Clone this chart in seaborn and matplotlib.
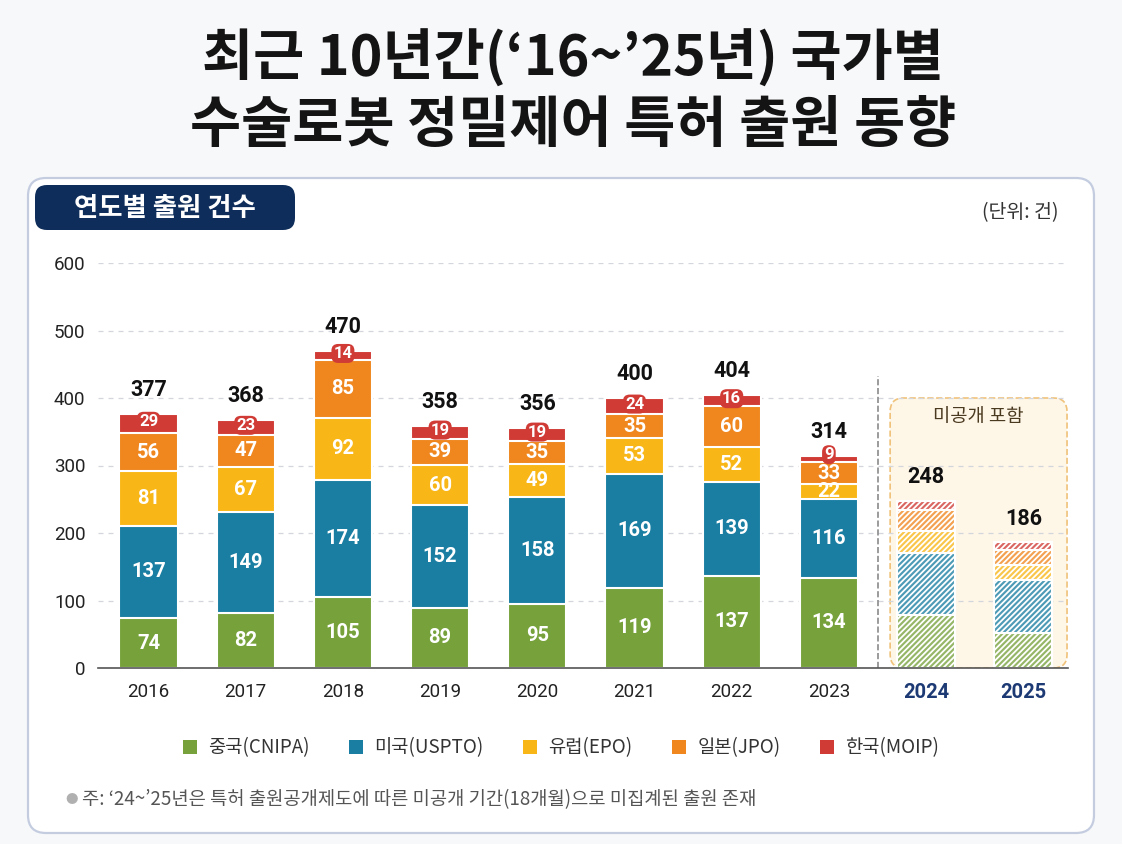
import numpy as np
import pandas as pd
import matplotlib
matplotlib.use('Agg')
import matplotlib.pyplot as plt
import seaborn as sns
from matplotlib.patches import FancyBboxPatch, Patch
from matplotlib.transforms import IdentityTransform
from matplotlib.colors import to_rgb

# data
years = ['2016', '2017', '2018', '2019', '2020', '2021', '2022', '2023', '2024', '2025']
china = [74, 82, 105, 89, 95, 119, 137, 134, 78, 52]
usa = [137, 149, 174, 152, 158, 169, 139, 116, 92, 78]
europe = [81, 67, 92, 60, 49, 53, 52, 22, 33, 22]
japan = [56, 47, 85, 39, 35, 35, 60, 33, 31, 23]
korea = [29, 23, 14, 19, 19, 24, 16, 9, 14, 11]
totals = [377, 368, 470, 358, 356, 400, 404, 314, 248, 186]
series_names = ['중국(CNIPA)', '미국(USPTO)', '유럽(EPO)', '일본(JPO)', '한국(MOIP)']
series_colors = ['#77A23B', '#1A7EA2', '#F8B617', '#EF861E', '#D03B36']
unpublished = ['2024', '2025']

sns.set_theme(style='white')
plt.rcParams['font.family'] = ['Noto Sans CJK KR', 'DejaVu Sans']
plt.rcParams['hatch.linewidth'] = 1.3
NUM_FONT = ['Roboto', 'DejaVu Sans']

fig = plt.figure(figsize=(11.22, 8.44), dpi=100)
fig.patch.set_facecolor('#F7F8FA')

# white panel and heading tag (behind the axes)
panel = FancyBboxPatch((28, 844 - 833), 1066, 655, boxstyle='round,pad=0,rounding_size=18',
                       transform=IdentityTransform(), facecolor='white', edgecolor='#C4CDE0',
                       lw=1.6, zorder=-2)
fig.add_artist(panel)
tag = FancyBboxPatch((35, 844 - 230), 260, 45, boxstyle='round,pad=0,rounding_size=12',
                     transform=IdentityTransform(), facecolor='#0E2D5A', edgecolor='none',
                     zorder=-1)
fig.add_artist(tag)
fig.text(165 / 1122, 1 - 208 / 844, '연도별 출원 건수', color='white', fontsize=19,
         fontweight='bold', ha='center', va='center')
fig.text(1058 / 1122, 1 - 213 / 844, '(단위: 건)', color='#333333', fontsize=14,
         ha='right', va='center')

fig.text(0.511, 1 - 59 / 844, '최근 10년간(‘16~’25년) 국가별', fontsize=40, fontweight='heavy',
         ha='center', va='center', color='#141414')
fig.text(0.511, 1 - 126 / 844, '수술로봇 정밀제어 특허 출원 동향', fontsize=40, fontweight='heavy',
         ha='center', va='center', color='#141414')

ax = fig.add_axes([98 / 1122, 1 - 668 / 844, 970 / 1122, 405 / 844])
ax.set_facecolor('none')

df = pd.DataFrame({'year': years, 'china': china, 'usa': usa, 'europe': europe,
                   'japan': japan, 'korea': korea})
keys = ['china', 'usa', 'europe', 'japan', 'korea']
cum = df[keys].cumsum(axis=1)

# "미공개 포함" region
box = FancyBboxPatch((7.63, 0), 1.82, 400, boxstyle='round,pad=0,rounding_size=0.14',
                     mutation_aspect=144, facecolor='#FEF6E7', edgecolor='#F0C27A',
                     ls='--', lw=1.2, zorder=0.3)
ax.add_patch(box)
ax.text(8.54, 372, '미공개 포함', ha='center', va='center', fontsize=13.5, color='#4A3A20')
ax.plot([7.51, 7.51], [0, 432], ls='--', color='#8A8A8A', lw=1.2, zorder=0.6)

# stacked bars, drawn back to front
for k in range(len(keys) - 1, -1, -1):
    n0 = len(ax.patches)
    sns.barplot(x=df['year'], y=cum[keys[k]], color=series_colors[k], saturation=1,
                width=0.6, edgecolor='white', linewidth=1.5, ax=ax, zorder=2)
    new = ax.patches[n0:]
    light = tuple(0.78 * np.array(to_rgb(series_colors[k])) + 0.22)
    for p, yr in zip(new, years):
        if yr in unpublished:
            p.set_facecolor(light)
            p.set_hatch('//////')

# segment labels
for i, yr in enumerate(years):
    if yr in unpublished:
        continue
    base = 0
    for k in keys:
        v = df.loc[i, k]
        if k == 'korea':
            y = base + v / 2 + 3 if v >= 12 else base + v + 2
            ax.text(i, y, str(v), ha='center', va='center', color='white',
                    fontsize=12, fontweight='bold', family=NUM_FONT, zorder=5,
                    bbox=dict(boxstyle='round,pad=0.12,rounding_size=0.4',
                              fc=series_colors[-1], ec='none'))
        else:
            ax.text(i, base + v / 2, str(v), ha='center', va='center', color='white',
                    fontsize=14.5, fontweight='bold', family=NUM_FONT, zorder=5)
        base += v
for i, t in enumerate(totals):
    top = cum.loc[i, 'korea']
    ax.text(i, top + 19, str(t), ha='center', va='bottom', fontsize=15.5, fontweight='bold',
            family=NUM_FONT, color='#111111', zorder=5)

ax.set_xlim(-0.52, 9.46)
ax.set_ylim(0, 600)
ax.set_yticks(range(0, 601, 100))
ax.yaxis.grid(True, ls=(0, (4, 4)), color='#D3D6DC', lw=0.9)
ax.set_axisbelow(True)
ax.set_xlabel('')
ax.set_ylabel('')
ax.tick_params(axis='both', length=0, labelsize=13.5, colors='#222222')
ax.tick_params(axis='x', pad=11)
ax.tick_params(axis='y', pad=9)
for lab in ax.get_xticklabels() + ax.get_yticklabels():
    lab.set_family(NUM_FONT)
for lab in ax.get_xticklabels():
    if lab.get_text() in unpublished:
        lab.set_fontweight('bold')
        lab.set_color('#1D3A74')
        lab.set_fontsize(14.5)
for s in ['left', 'right', 'top']:
    ax.spines[s].set_visible(False)
ax.spines['bottom'].set_color('#555555')
ax.spines['bottom'].set_linewidth(1.2)
ax.spines['bottom'].set_zorder(6)

handles = [Patch(facecolor=c, edgecolor='none', label=n) for c, n in zip(series_colors, series_names)]
fig.legend(handles=handles, loc='center', bbox_to_anchor=(0.5, 1 - 748 / 844), ncol=5,
           frameon=False, fontsize=13.5, handlelength=0.75, handleheight=0.75,
           columnspacing=2.1, handletextpad=0.6, labelcolor='#333333')

fig.text(72 / 1122, 1 - 800 / 844, '●', fontsize=9, color='#B0B0B0', ha='center', va='center')
fig.text(82 / 1122, 1 - 800 / 844,
         '주: ‘24~’25년은 특허 출원공개제도에 따른 미공개 기간(18개월)으로 미집계된 출원 존재',
         fontsize=13.5, color='#555555', ha='left', va='center')

fig.savefig('out.png', dpi=100, facecolor=fig.get_facecolor())
